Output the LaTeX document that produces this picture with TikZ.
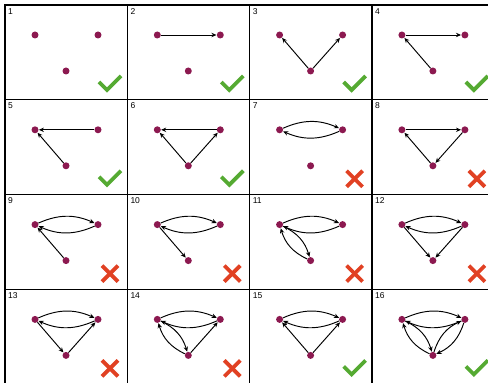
\documentclass[tikz,border=0pt]{standalone}
\usepackage{fontspec}
\setmainfont{Liberation Sans}
\usetikzlibrary{arrows.meta}
\definecolor{dotcol}{RGB}{140,25,80}
\definecolor{okcol}{RGB}{85,170,50}
\definecolor{nocol}{RGB}{225,65,35}

\begin{document}
\begin{tikzpicture}[
			x=1pt, y=1pt,
			dot/.style={circle, fill=dotcol, inner sep=0pt, minimum size=7pt},
			num/.style={anchor=north west, inner sep=1pt, font=\fontsize{8.5}{10}\selectfont},
			edge/.style={-{Stealth[length=5pt,width=4.4pt]}, line width=0.95pt, shorten >=0.2pt},
			pair/.style={edge, bend left=24},
			panel/.style={draw=black, line width=1.3pt},
			okmark/.style={draw=okcol, line width=3.8pt},
			nomark/.style={draw=nocol, line width=3.8pt}
			]
			
			\useasboundingbox (0,0) rectangle (488,383);
			\clip (0,0) rectangle (488,383);
			
			% panels with their three points
			\foreach \n in {1,...,16}{
				\pgfmathsetmacro{\px}{5+122.3*mod(\n-1,4)}
				\pgfmathsetmacro{\py}{378-94.8*floor((\n-1)/4)}
				\coordinate (P\n) at (\px,\py);
				\draw[panel] (P\n) rectangle ++(122.3,-94.8);
				\node[num] (N\n) at ([shift={(2,-2)}]P\n) {\n};
				\node[dot] (L\n) at ([shift={(30,-30)}]P\n) {};
				\node[dot] (R\n) at ([shift={(93,-30)}]P\n) {};
				\node[dot] (B\n) at ([shift={(61,-66)}]P\n) {};
			}
			
			% marks
			\foreach \n in {1,...,6,15,16}
				\draw[okmark, shift={(P\n)}] (94,-77) -- (102,-85) -- (116,-71);
			\foreach \n in {7,...,14}{
				\draw[nomark, shift={(P\n)}] (97,-71) -- (113,-87);
				\draw[nomark, shift={(P\n)}] (97,-87) -- (113,-71);
			}
			
			% edges
			\draw[edge] (L2) -- (R2);
			
			\draw[edge] (B3) -- (L3);
			\draw[edge] (B3) -- (R3);
			
			\draw[edge] (L4) -- (R4);
			\draw[edge] (B4) -- (L4);
			
			\draw[edge] (R5) -- (L5);
			\draw[edge] (B5) -- (L5);
			
			\draw[edge] (R6) -- (L6);
			\draw[edge] (B6) -- (L6);
			\draw[edge] (B6) -- (R6);
			
			\draw[pair] (L7) to (R7);
			\draw[pair] (R7) to (L7);
			
			\draw[edge] (L8) -- (R8);
			\draw[edge] (R8) -- (B8);
			\draw[edge] (B8) -- (L8);
			
			\draw[pair] (L9) to (R9);
			\draw[pair] (R9) to (L9);
			\draw[edge] (B9) -- (L9);
			
			\draw[pair] (L10) to (R10);
			\draw[pair] (R10) to (L10);
			\draw[edge] (L10) -- (B10);
			
			\draw[pair] (L11) to (R11);
			\draw[pair] (R11) to (L11);
			\draw[pair] (L11) to (B11);
			\draw[pair] (B11) to (L11);
			
			\draw[pair] (L12) to (R12);
			\draw[pair] (R12) to (L12);
			\draw[edge] (L12) -- (B12);
			\draw[edge] (R12) -- (B12);
			
			\draw[pair] (L13) to (R13);
			\draw[pair] (R13) to (L13);
			\draw[edge] (L13) -- (B13);
			\draw[edge] (B13) -- (R13);
			
			\draw[pair] (L14) to (R14);
			\draw[pair] (R14) to (L14);
			\draw[pair] (L14) to (B14);
			\draw[pair] (B14) to (L14);
			\draw[edge] (B14) -- (R14);
			
			\draw[pair] (L15) to (R15);
			\draw[pair] (R15) to (L15);
			\draw[edge] (B15) -- (L15);
			\draw[edge] (B15) -- (R15);
			
			\draw[pair] (L16) to (R16);
			\draw[pair] (R16) to (L16);
			\draw[pair] (L16) to (B16);
			\draw[pair] (B16) to (L16);
			\draw[pair] (R16) to (B16);
			\draw[pair] (B16) to (R16);
		\end{tikzpicture}
\end{document}
